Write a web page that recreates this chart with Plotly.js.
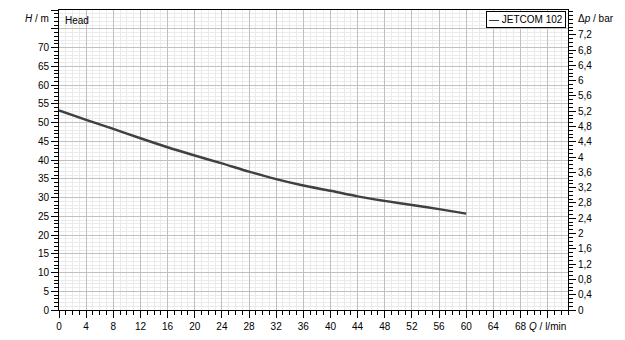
<!DOCTYPE html>
<html>
<head>
<meta charset="utf-8">
<script src="https://cdn.plot.ly/plotly-3.0.1.min.js"></script>
<style>html,body{margin:0;padding:0;background:#fff;}#chart{width:625px;height:340px;}</style>
</head>
<body>
<div id="chart"></div>
<script>
// Data
const seriesName = "JETCOM 102";
const flowQ = [0, 4, 8, 12, 16, 20, 24, 28, 32, 36, 40, 44, 48, 52, 56, 60];
const headH = [53.2, 50.7, 48.3, 45.8, 43.4, 41.2, 39.1, 36.9, 34.9, 33.2, 31.8, 30.3, 29.1, 28.0, 26.9, 25.7];

const xTickVals = [0, 4, 8, 12, 16, 20, 24, 28, 32, 36, 40, 44, 48, 52, 56, 60, 64, 68, 72];
const xTickText = ["0","4","8","12","16","20","24","28","32","36","40","44","48","52","56","60","64","68","<i>Q</i> / l/min"];
const yTickVals = [0, 5, 10, 15, 20, 25, 30, 35, 40, 45, 50, 55, 60, 65, 70, 75, 80];
const yTickText = ["0","5","10","15","20","25","30","35","40","45","50","55","60","65","70","",""];
const y2TickVals = [0, 0.4, 0.8, 1.2, 1.6, 2, 2.4, 2.8, 3.2, 3.6, 4, 4.4, 4.8, 5.2, 5.6, 6, 6.4, 6.8, 7.2];
const y2TickText = ["0","0,4","0,8","1,2","1,6","2","2,4","2,8","3,2","3,6","4","4,4","4,8","5,2","5,6","6","6,4","6,8","7,2"];

const majorGrid = "#c0c0c0";
const minorGrid = "#ebebeb";
const font = {family: "Liberation Sans, Arial, sans-serif", size: 10, color: "#000"};

const traces = [
  {x: flowQ, y: headH, type: "scatter", mode: "lines", name: seriesName,
   line: {color: "#404040", width: 2.5, shape: "spline", smoothing: 0.8},
   showlegend: false, hoverinfo: "skip"},
  {x: [], y: [], type: "scatter", yaxis: "y2", showlegend: false, hoverinfo: "skip"}
];

const layout = {
  width: 625, height: 340,
  margin: {l: 59, r: 57, t: 10, b: 30},
  paper_bgcolor: "#fff", plot_bgcolor: "#fff",
  font: font,
  showlegend: false,
  xaxis: {
    range: [0, 75], fixedrange: true,
    tickmode: "array", tickvals: xTickVals, ticktext: xTickText,
    ticks: "outside", ticklen: 7, tickcolor: "#000", tickwidth: 1,
    showgrid: true, gridcolor: majorGrid, gridwidth: 1,
    showline: true, linecolor: "#000", linewidth: 1, mirror: true,
    zeroline: false, tickfont: font,
    minor: {dtick: 1, tick0: 0, ticks: "outside", ticklen: 4, tickcolor: "#000",
            showgrid: true, gridcolor: minorGrid, gridwidth: 1}
  },
  yaxis: {
    range: [0, 80], fixedrange: true,
    tickmode: "array", tickvals: yTickVals, ticktext: yTickText,
    ticks: "outside", ticklen: 7, tickcolor: "#000", tickwidth: 1,
    showgrid: true, gridcolor: majorGrid, gridwidth: 1,
    showline: true, linecolor: "#000", linewidth: 1,
    zeroline: false, tickfont: font,
    minor: {dtick: 1, tick0: 0, ticks: "outside", ticklen: 4, tickcolor: "#000",
            showgrid: true, gridcolor: minorGrid, gridwidth: 1}
  },
  yaxis2: {
    overlaying: "y", side: "right",
    range: [0, 80 * 0.0981], fixedrange: true,
    tickmode: "array", tickvals: y2TickVals, ticktext: y2TickText,
    ticks: "outside", ticklen: 7, tickcolor: "#000", tickwidth: 1,
    showgrid: false, zeroline: false,
    showline: true, linecolor: "#000", linewidth: 1,
    tickfont: font,
    minor: {dtick: 0.1, tick0: 0, ticks: "outside", ticklen: 4, tickcolor: "#000", showgrid: false}
  },
  annotations: [
    {xref: "paper", yref: "paper", x: 0, y: 1, xanchor: "right", yanchor: "middle",
     xshift: -8, yshift: -8, text: "<i>H</i> / m", showarrow: false, font: font},
    {xref: "paper", yref: "paper", x: 1, y: 1, xanchor: "left", yanchor: "middle",
     xshift: 8, yshift: -8, text: "Δ<i>p</i> / bar", showarrow: false, font: font},
    {xref: "paper", yref: "paper", x: 0, y: 1, xanchor: "left", yanchor: "middle",
     xshift: 4, yshift: -10, text: "Head", showarrow: false, font: font},
    {xref: "paper", yref: "paper", x: 1, y: 1, xanchor: "right", yanchor: "top",
     xshift: -2, yshift: -1, text: "— " + seriesName, showarrow: false, font: font,
     bgcolor: "#fff", bordercolor: "#000", borderwidth: 1, borderpad: 2}
  ]
};

Plotly.newPlot("chart", traces, layout, {displayModeBar: false, staticPlot: true});
</script>
</body>
</html>
